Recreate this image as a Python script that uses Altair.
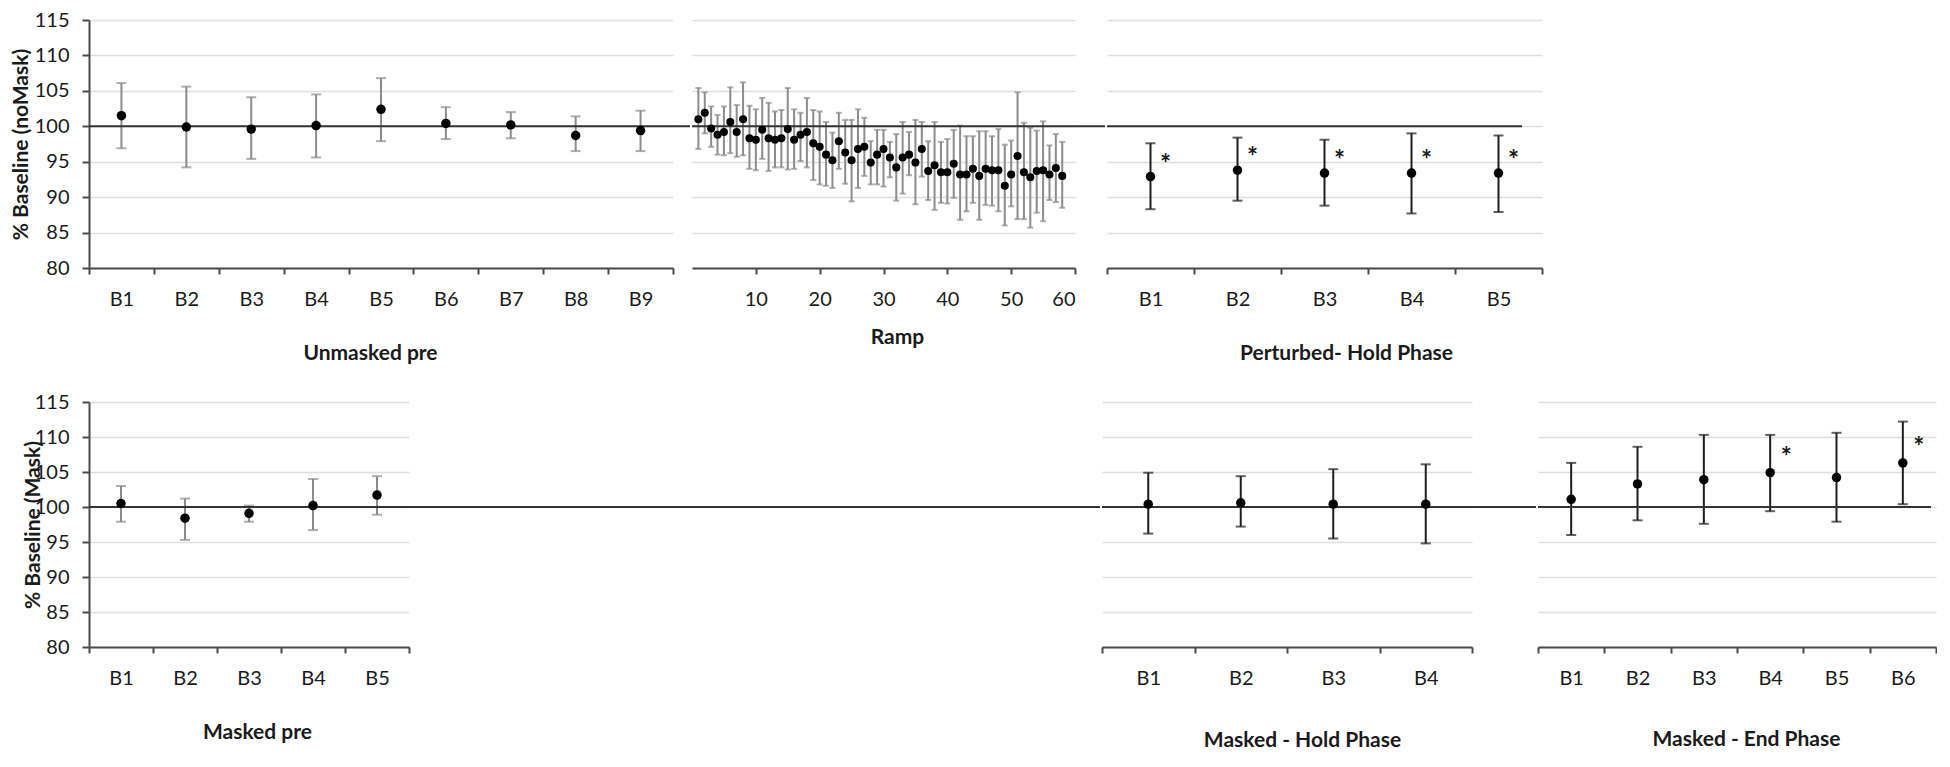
import altair as alt
import pandas as pd

FONT = "Lato"
GRAY_BAR = "#8c8c8c"
BLACK_BAR = "#1e1e1e"
AXIS_COL = "#4a4a4a"
GRID_COL = "#dedede"
LINE_COL = "#333333"
TEXT_COL = "#1a1a1a"

# ---------------- data ----------------
y_ticks = [80, 85, 90, 95, 100, 105, 110, 115]
baseline_value = [100]

unmasked_pre_labels = ["B1", "B2", "B3", "B4", "B5", "B6", "B7", "B8", "B9"]
unmasked_pre_mean = [101.5, 99.9, 99.6, 100.1, 102.4, 100.4, 100.2, 98.7, 99.4]
unmasked_pre_upper = [106.1, 105.6, 104.1, 104.5, 106.8, 102.7, 102.0, 101.4, 102.2]
unmasked_pre_lower = [96.9, 94.2, 95.4, 95.6, 97.9, 98.2, 98.3, 96.5, 96.5]
unmasked_pre_sig = [False] * 9

ramp_step = list(range(1, 59))
ramp_ticks = [10, 20, 30, 40, 50, 60]
ramp_mean = [101.0, 101.9, 99.7, 98.8, 99.2, 100.6, 99.2, 101.0, 98.3, 98.1,
             99.5, 98.3, 98.1, 98.3, 99.6, 98.1, 98.8, 99.2, 97.6, 97.1,
             96.0, 95.2, 97.9, 96.3, 95.2, 96.8, 97.1, 94.9, 96.0, 96.8,
             95.6, 94.2, 95.6, 96.0, 94.9, 96.8, 93.7, 94.5, 93.5, 93.5,
             94.7, 93.2, 93.2, 94.0, 93.0, 94.0, 93.8, 93.8, 91.6, 93.2,
             95.8, 93.5, 92.8, 93.7, 93.8, 93.2, 94.1, 93.0]
ramp_upper = [105.4, 104.8, 102.8, 101.6, 102.8, 105.5, 103.0, 106.2, 102.9, 102.4,
              104.0, 103.3, 102.1, 102.3, 105.4, 102.4, 101.9, 104.0, 102.3, 102.1,
              100.6, 99.1, 101.9, 100.9, 100.9, 102.4, 101.2, 97.9, 99.5, 99.5,
              97.8, 98.9, 100.6, 99.2, 100.9, 100.6, 97.9, 100.6, 97.8, 98.2,
              99.5, 100.1, 98.6, 98.6, 99.3, 99.3, 98.6, 99.6, 97.4, 98.0,
              104.8, 100.5, 99.8, 99.4, 100.7, 97.3, 98.9, 97.8]
ramp_lower = [96.8, 99.0, 97.1, 96.0, 95.9, 96.2, 95.7, 95.9, 94.0, 93.8,
              95.4, 93.7, 94.2, 94.2, 93.9, 94.0, 95.1, 94.2, 92.4, 91.8,
              91.6, 91.3, 94.0, 91.9, 89.4, 91.3, 93.0, 91.8, 91.8, 91.5,
              92.8, 89.5, 90.5, 93.1, 89.0, 92.9, 89.6, 88.2, 89.2, 89.1,
              89.9, 86.8, 88.0, 89.2, 86.8, 88.9, 88.8, 88.0, 86.0, 88.7,
              86.9, 86.9, 85.7, 87.8, 86.6, 89.6, 89.3, 88.5]

perturbed_labels = ["B1", "B2", "B3", "B4", "B5"]
perturbed_mean = [92.9, 93.8, 93.4, 93.4, 93.4]
perturbed_upper = [97.6, 98.4, 98.1, 99.0, 98.7]
perturbed_lower = [88.3, 89.5, 88.8, 87.7, 87.9]
perturbed_sig = [True, True, True, True, True]

masked_pre_labels = ["B1", "B2", "B3", "B4", "B5"]
masked_pre_mean = [100.5, 98.4, 99.1, 100.2, 101.7]
masked_pre_upper = [103.0, 101.2, 100.2, 104.0, 104.4]
masked_pre_lower = [97.9, 95.3, 97.9, 96.7, 98.9]
masked_pre_sig = [False] * 5

hold_labels = ["B1", "B2", "B3", "B4"]
hold_mean = [100.4, 100.6, 100.4, 100.4]
hold_upper = [104.9, 104.4, 105.4, 106.1]
hold_lower = [96.2, 97.2, 95.5, 94.8]
hold_sig = [False] * 4

end_labels = ["B1", "B2", "B3", "B4", "B5", "B6"]
end_mean = [101.1, 103.3, 103.9, 104.9, 104.2, 106.3]
end_upper = [106.3, 108.6, 110.3, 110.3, 110.6, 112.2]
end_lower = [96.0, 98.1, 97.6, 99.4, 97.9, 100.4]
end_sig = [False, False, False, True, False, True]

TOP_H = 248
BOT_H = 245


def y_axis(height, title=None, title_x=None):
    if title is None:
        return alt.Axis(values=y_ticks, title=None, labels=False, ticks=False,
                        domain=False, grid=True, gridColor=GRID_COL, gridWidth=1.6)
    return alt.Axis(values=y_ticks, title=title, titleX=title_x, titleY=height / 2,
                    titleAngle=270, titleAlign="center", titleBaseline="middle",
                    titleFont=FONT, titleFontSize=21, titleFontWeight="bold",
                    titleColor=TEXT_COL, labelFont=FONT, labelFontSize=20,
                    labelColor=TEXT_COL, labelPadding=13, tickSize=7, tickWidth=2,
                    tickColor=AXIS_COL, domainColor=AXIS_COL, domainWidth=2,
                    grid=True, gridColor=GRID_COL, gridWidth=1.6)


def x_axis(title, title_x, title_y, values=None, band=True):
    kw = dict(title=title, titleX=title_x, titleY=title_y, titleAlign="center",
              titleBaseline="middle", titleFont=FONT, titleFontSize=21,
              titleFontWeight="bold", titleColor=TEXT_COL, labelAngle=0,
              labelFont=FONT, labelFontSize=20, labelColor=TEXT_COL,
              labelBaseline="middle", labelPadding=25, tickSize=6, tickWidth=2,
              tickColor=AXIS_COL, domainColor=AXIS_COL, domainWidth=2, grid=False)
    if band:
        kw["tickBand"] = "extent"
    if values is not None:
        kw["values"] = values
    return alt.Axis(**kw)


def panel(xs, mean, upper, lower, sig, width, height, bar_color, title,
          title_x, title_y, line_len, y_title=None, y_title_x=None,
          quantitative=False, dot=90, cap=10, star_dx=15, star_dy=-12):
    df = pd.DataFrame({"b": xs, "mean": mean, "upper": upper,
                       "lower": lower, "sig": sig})
    ysc = alt.Scale(domain=[80, 115], nice=False, zero=False)
    yax = y_axis(height, y_title, y_title_x)
    if quantitative:
        xenc = alt.X("b:Q", scale=alt.Scale(domain=[0, 60], nice=False, zero=False),
                     axis=x_axis(title, title_x, title_y, values=ramp_ticks, band=False))
    else:
        xenc = alt.X("b:N", sort=list(xs),
                     scale=alt.Scale(paddingInner=0, paddingOuter=0),
                     axis=x_axis(title, title_x, title_y))
    base = alt.Chart(df)
    bars = base.mark_rule(color=bar_color, strokeWidth=2).encode(
        x=xenc, y=alt.Y("lower:Q", scale=ysc, axis=yax), y2="upper:Q")
    cap_hi = base.mark_tick(color=bar_color, thickness=2, size=cap,
                            orient="horizontal").encode(
        x=xenc, y=alt.Y("upper:Q", scale=ysc, axis=yax))
    cap_lo = base.mark_tick(color=bar_color, thickness=2, size=cap,
                            orient="horizontal").encode(
        x=xenc, y=alt.Y("lower:Q", scale=ysc, axis=yax))
    # baseline at 100 %, continued across the gap to the next panel
    line = alt.Chart(pd.DataFrame({"mean": baseline_value})).mark_rule(
        color=LINE_COL, strokeWidth=2).encode(
        y=alt.Y("mean:Q", scale=ysc, axis=yax),
        x=alt.value(0), x2=alt.value(line_len))
    dots = base.mark_circle(color="black", size=dot, opacity=1).encode(
        x=xenc, y=alt.Y("mean:Q", scale=ysc, axis=yax))
    layers = [bars, cap_hi, cap_lo, line, dots]
    if any(sig):
        stars = base.transform_filter("datum.sig").mark_text(
            text="*", dx=star_dx, dy=star_dy, font=FONT, fontSize=26,
            fontWeight="bold", color=TEXT_COL).encode(
            x=xenc, y=alt.Y("mean:Q", scale=ysc, axis=yax))
        layers.append(stars)
    return alt.layer(*layers).properties(width=width, height=height)


p1 = panel(unmasked_pre_labels, unmasked_pre_mean, unmasked_pre_upper,
           unmasked_pre_lower, unmasked_pre_sig, 584, TOP_H, GRAY_BAR,
           "Unmasked pre", 281, 85, 601, y_title="% Baseline (noMask)",
           y_title_x=-68)
p2 = panel(ramp_step, ramp_mean, ramp_upper, ramp_lower, [False] * 58,
           383, TOP_H, GRAY_BAR, "Ramp", 205, 69, 413, quantitative=True,
           dot=65, cap=6)
p3 = panel(perturbed_labels, perturbed_mean, perturbed_upper, perturbed_lower,
           perturbed_sig, 435, TOP_H, BLACK_BAR, "Perturbed- Hold Phase",
           239, 85, 415)

p4 = panel(masked_pre_labels, masked_pre_mean, masked_pre_upper,
           masked_pre_lower, masked_pre_sig, 320, BOT_H, GRAY_BAR,
           "Masked pre", 168, 85, 1011, y_title="% Baseline (Mask)",
           y_title_x=-56)
p5 = panel(hold_labels, hold_mean, hold_upper, hold_lower, hold_sig,
           370, BOT_H, BLACK_BAR, "Masked - Hold Phase", 200, 93, 434)
p6 = panel(end_labels, end_mean, end_upper, end_lower, end_sig,
           398, BOT_H, BLACK_BAR, "Masked - End Phase", 208, 92, 393,
           star_dx=16, star_dy=-15)

top = alt.hconcat(p1, p2, p3, spacing=0)
bottom = alt.hconcat(p4, p5, p6, spacing=0)

chart = alt.vconcat(top, bottom, spacing=29).properties(
    padding={"left": 2, "top": 2, "right": 0, "bottom": 0},
    background="white").configure_view(stroke=None)

chart.save("out.html", embed_options={"renderer": "svg", "actions": False})
